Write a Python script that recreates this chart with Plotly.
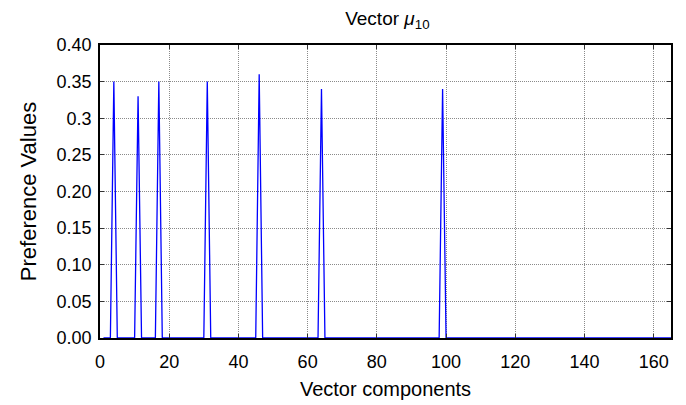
import plotly.graph_objects as go

# Data
n_components = 165
spike_positions = [4, 11, 17, 31, 46, 64, 99]
spike_values = [0.35, 0.33, 0.35, 0.35, 0.36, 0.34, 0.34]

y_tickvals = [0.0, 0.05, 0.10, 0.15, 0.20, 0.25, 0.30, 0.35, 0.40]
y_ticktext = ["0.00", "0.05", "0.10", "0.15", "0.20", "0.25", "0.3", "0.35", "0.40"]
x_tickvals = [0, 20, 40, 60, 80, 100, 120, 140, 160]

components = list(range(1, n_components + 1))
values = [0.0] * n_components
for p, v in zip(spike_positions, spike_values):
    values[p - 1] = v

fig = go.Figure()
fig.add_trace(go.Scatter(x=components, y=values, mode="lines",
                         line=dict(color="#0000ff", width=1.3),
                         showlegend=False))

font = "Liberation Sans, Arial, sans-serif"
axis_common = dict(
    showline=True, linecolor="black", linewidth=1.5, mirror="ticks",
    ticks="inside", ticklen=4, tickcolor="#333333",
    showgrid=True, gridcolor="#8a8a8a", griddash="1px,1px", gridwidth=1,
    zeroline=False,
    tickfont=dict(family=font, size=18, color="black"),
)

fig.update_layout(
    width=686, height=405,
    margin=dict(l=92, r=23, t=37, b=75),
    paper_bgcolor="white", plot_bgcolor="white",
    title=dict(text="Vector <i>μ</i><sub>10</sub>", x=0.553, xanchor="center",
               y=0.975, yanchor="middle",
               font=dict(family=font, size=19, color="black")),
    xaxis=dict(range=[0, 165], tickvals=x_tickvals, ticklabelstandoff=7,
               title=dict(text="Vector components", standoff=11,
                          font=dict(family=font, size=20, color="black")),
               **axis_common),
    yaxis=dict(range=[0, 0.40], tickvals=y_tickvals, ticktext=y_ticktext,
               ticklabelstandoff=3,
               title=dict(text="Preference Values", standoff=14,
                          font=dict(family=font, size=22, color="black")),
               **axis_common),
)

fig.write_html("out.html")
